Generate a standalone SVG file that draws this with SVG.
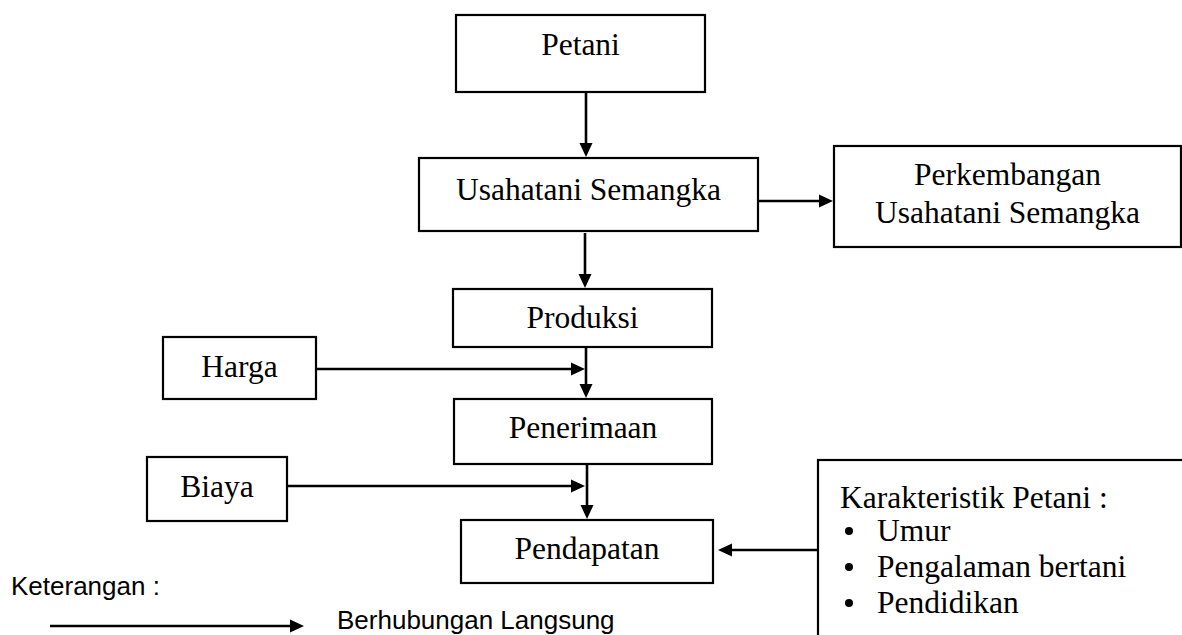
<svg xmlns="http://www.w3.org/2000/svg" width="1182" height="635" viewBox="0 0 1182 635">
<defs>
<style>
.box{fill:#fff;stroke:#000;stroke-width:2.2}
.t{font-family:"Liberation Serif","Times New Roman",serif;font-size:31.5px;fill:#000}
.c{text-anchor:middle}
.a{font-family:"Liberation Sans",Arial,sans-serif;font-size:26px;fill:#000}
.ln{stroke:#000;stroke-width:2.6;fill:none;marker-end:url(#ah)}
</style>
<marker id="ah" markerUnits="userSpaceOnUse" viewBox="0 0 14 14" markerWidth="14" markerHeight="14" refX="4" refY="7" orient="auto">
<path d="M0,0.5 L14,7 L0,13.5 z" fill="#000"/>
</marker>
</defs>
<rect width="1182" height="635" fill="#fff"/>
<g id="petani"><rect class="box" x="456" y="15" width="249" height="77"/><text class="t c" x="580.5" y="55">Petani</text></g>
<g id="usahatani"><rect class="box" x="419" y="158" width="339" height="73"/><text class="t c" x="588.5" y="200">Usahatani Semangka</text></g>
<g id="perkembangan"><rect class="box" x="834" y="146" width="347" height="101"/><text class="t c" x="1007.5" y="185">Perkembangan</text><text class="t c" x="1007.5" y="223">Usahatani Semangka</text></g>
<g id="produksi"><rect class="box" x="453" y="289" width="259" height="58"/><text class="t c" x="582.5" y="328">Produksi</text></g>
<g id="harga"><rect class="box" x="163" y="337" width="153" height="62"/><text class="t c" x="239.5" y="377">Harga</text></g>
<g id="penerimaan"><rect class="box" x="454" y="399" width="258" height="65"/><text class="t c" x="583" y="438">Penerimaan</text></g>
<g id="biaya"><rect class="box" x="147" y="457" width="140" height="64"/><text class="t c" x="217" y="497">Biaya</text></g>
<g id="pendapatan"><rect class="box" x="461" y="520" width="252" height="63"/><text class="t c" x="587" y="559">Pendapatan</text></g>
<g id="karakteristik"><rect class="box" x="818" y="460" width="380" height="200"/>
<text class="t" x="840" y="508">Karakteristik Petani :</text>
<circle cx="849" cy="531" r="4"/><text class="t" x="877" y="541">Umur</text>
<circle cx="849" cy="567" r="4"/><text class="t" x="877" y="577">Pengalaman bertani</text>
<circle cx="849" cy="603" r="4"/><text class="t" x="877" y="613">Pendidikan</text>
</g>
<g id="legend">
<text class="a" x="11" y="595">Keterangan :</text>
<line class="ln" x1="50" y1="626" x2="294" y2="626"/>
<text class="a" x="337" y="629">Berhubungan Langsung</text>
</g>
<g id="connectors">
<line class="ln" x1="586" y1="92" x2="586" y2="147"/>
<line class="ln" x1="585" y1="233" x2="585" y2="278"/>
<line class="ln" x1="758" y1="201" x2="823" y2="201"/>
<line class="ln" x1="586" y1="347" x2="586" y2="388"/>
<line class="ln" x1="316" y1="369" x2="575" y2="369"/>
<line class="ln" x1="587" y1="464" x2="587" y2="509"/>
<line class="ln" x1="287" y1="486" x2="575" y2="486"/>
<line class="ln" x1="818" y1="550" x2="728" y2="550"/>
</g>
</svg>
